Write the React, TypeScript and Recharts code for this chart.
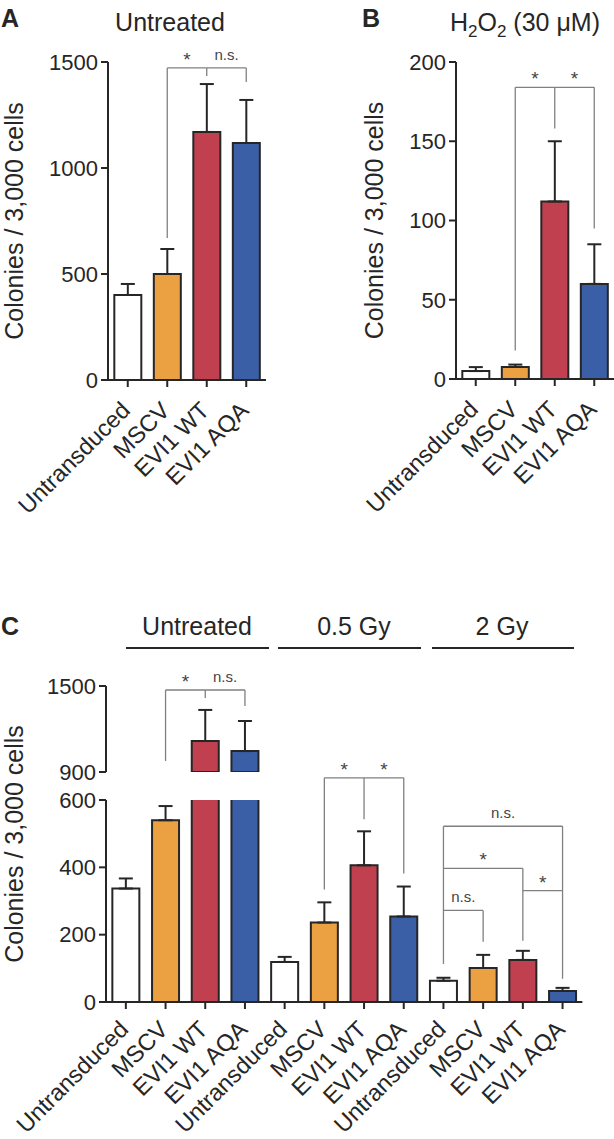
import React from 'react';
import { BarChart, Bar, XAxis, YAxis, Cell, ErrorBar, ReferenceLine } from 'recharts';

const categories = ['Untransduced', 'MSCV', 'EVI1 WT', 'EVI1 AQA'];

// A - untreated colonies (mean, +SD)
const untreatedMean = [401, 500, 1170, 1118];
const untreatedSd = [52, 118, 226, 203];

// B - H2O2 (30 uM)
const h2o2Mean = [5, 7.6, 112, 60];
const h2o2Sd = [2.5, 1.5, 38, 25];

// C - irradiation, same four cell types per dose
const doseGroups = ['Untreated', '0.5 Gy', '2 Gy'];
const ctrlMean = [337, 540, 1116, 1046];
const ctrlSd = [30, 42, 217, 210];
const halfGyMean = [119, 236, 406, 254];
const halfGySd = [15, 60, 101, 89];
const twoGyMean = [63, 101, 125, 33];
const twoGySd = [9, 39, 27, 9];

const aTicks = [0, 500, 1000, 1500];
const bTicks = [0, 50, 100, 150, 200];
const cLowTicks = [0, 200, 400, 600];
const cHighTicks = [900, 1500];

const BREAK_LO = 600;
const BREAK_HI = 900;

const COLORS = ['#ffffff', '#eba141', '#c1404f', '#3a5fa6'];
const INK = '#262626';
const GRAY = '#808080';
const FONT = '"Liberation Sans", Arial, Helvetica, sans-serif';
const Y_TITLE = 'Colonies / 3,000 cells';

const mk = (mean: number[], sd: number[]) =>
  categories.map((name, i) => ({ name, mean: mean[i], err: [0, sd[i]] }));

const dataA = mk(untreatedMean, untreatedSd);
const dataB = mk(h2o2Mean, h2o2Sd);

const cMeans = [ctrlMean, halfGyMean, twoGyMean];
const cSds = [ctrlSd, halfGySd, twoGySd];
const dataC = doseGroups.flatMap((g, gi) =>
  categories.map((name, i) => ({ key: `${g}|${name}`, name, mean: cMeans[gi][i], sd: cSds[gi][i] }))
);
const dataCLow = dataC.map((d) => ({ ...d, err: d.mean <= BREAK_LO ? [0, d.sd] : null }));
const dataCHigh = dataC.map((d) => ({
  ...d,
  mean: d.mean >= BREAK_HI ? d.mean : null,
  err: d.mean >= BREAK_HI ? [0, d.sd] : null,
}));

const k = (g: string, c: string) => `${g}|${c}`;

type Span = { a: string; b: string; y: number; text: string };
type Leg = { x: string; top: number; bottom: number };

const sigLabel = (text: string) =>
  text === '*'
    ? { value: '*', position: 'top' as const, offset: 2, fontSize: 19, fill: '#444' }
    : { value: text, position: 'top' as const, offset: 8, fontSize: 15, fill: '#444' };

const bracket = (id: string, spans: Span[], legs: Leg[]) => [
  ...spans.map((s, i) => (
    <ReferenceLine
      key={`${id}-s${i}`}
      segment={[{ x: s.a, y: s.y }, { x: s.b, y: s.y }]}
      stroke={GRAY}
      strokeWidth={1.3}
      ifOverflow="visible"
      label={sigLabel(s.text)}
    />
  )),
  ...legs.map((l, i) => (
    <ReferenceLine
      key={`${id}-l${i}`}
      segment={[{ x: l.x, y: l.top }, { x: l.x, y: l.bottom }]}
      stroke={GRAY}
      strokeWidth={1.3}
      ifOverflow="visible"
    />
  )),
];

const renderBars = (data: { mean: number | null }[]) => (
  <Bar dataKey="mean" stroke={INK} strokeWidth={2} isAnimationActive={false}>
    {data.map((_, i) => (
      <Cell key={i} fill={COLORS[i % 4]} />
    ))}
    <ErrorBar dataKey="err" direction="y" width={7} stroke={INK} strokeWidth={2} />
  </Bar>
);

const axisLine = { stroke: INK, strokeWidth: 2 };
const yTick = { fontSize: 22, fill: INK };
const xTick = (dy: number) => ({ fontSize: 23.5, fill: INK, angle: -45, textAnchor: 'end', dx: -8, dy });
const yLabel = (dx: number) => ({
  value: Y_TITLE,
  angle: -90,
  position: 'center' as const,
  dx,
  fontSize: 25,
  fill: INK,
});

const PanelA = () => (
  <BarChart width={300} height={560} data={dataA} margin={{ top: 62, right: 34, left: 8, bottom: 40 }} barCategoryGap="16%">
    <XAxis dataKey="name" interval={0} height={140} tick={xTick(11)} tickSize={7} tickLine={axisLine} axisLine={axisLine} />
    <YAxis domain={[0, 1500]} ticks={aTicks} interval={0} width={100} tick={yTick} tickSize={7} tickMargin={3}
      tickLine={axisLine} axisLine={axisLine} label={yLabel(-44)} />
    {renderBars(dataA)}
    {bracket('a', [
      { a: 'MSCV', b: 'EVI1 WT', y: 1472, text: '*' },
      { a: 'EVI1 WT', b: 'EVI1 AQA', y: 1472, text: 'n.s.' },
    ], [
      { x: 'MSCV', top: 1472, bottom: 670 },
      { x: 'EVI1 WT', top: 1472, bottom: 1434 },
      { x: 'EVI1 AQA', top: 1472, bottom: 1406 },
    ])}
  </BarChart>
);

const PanelB = () => (
  <BarChart width={314} height={560} data={dataB} margin={{ top: 62, right: 0, left: 56, bottom: 41 }} barCategoryGap="16%">
    <XAxis dataKey="name" interval={0} height={140} tick={xTick(11)} tickSize={7} tickLine={axisLine} axisLine={axisLine} />
    <YAxis domain={[0, 200]} ticks={bTicks} interval={0} width={100} tick={yTick} tickSize={7} tickMargin={3}
      tickLine={axisLine} axisLine={axisLine} label={yLabel(-32)} />
    {renderBars(dataB)}
    {bracket('b', [
      { a: 'MSCV', b: 'EVI1 WT', y: 184, text: '*' },
      { a: 'EVI1 WT', b: 'EVI1 AQA', y: 184, text: '*' },
    ], [
      { x: 'MSCV', top: 184, bottom: 18 },
      { x: 'EVI1 WT', top: 184, bottom: 158 },
      { x: 'EVI1 AQA', top: 184, bottom: 95 },
    ])}
  </BarChart>
);

const PanelCHigh = () => (
  <BarChart width={614} height={140} data={dataCHigh} margin={{ top: 26, right: 31.6, left: 6, bottom: 28 }} barCategoryGap="16%">
    <XAxis dataKey="key" hide />
    <YAxis domain={[BREAK_HI, 1500]} ticks={cHighTicks} interval={0} allowDataOverflow width={100} tick={yTick}
      tickSize={7} tickMargin={3} tickLine={axisLine} axisLine={axisLine} />
    {renderBars(dataCHigh)}
    {bracket('cu', [
      { a: k('Untreated', 'MSCV'), b: k('Untreated', 'EVI1 WT'), y: 1472, text: '*' },
      { a: k('Untreated', 'EVI1 WT'), b: k('Untreated', 'EVI1 AQA'), y: 1472, text: 'n.s.' },
    ], [
      { x: k('Untreated', 'MSCV'), top: 1472, bottom: 977 },
      { x: k('Untreated', 'EVI1 WT'), top: 1472, bottom: 1416 },
      { x: k('Untreated', 'EVI1 AQA'), top: 1472, bottom: 1360 },
    ])}
  </BarChart>
);

const PanelCLow = () => (
  <BarChart width={614} height={399} data={dataCLow} margin={{ top: 60, right: 31.6, left: 6, bottom: 7 }} barCategoryGap="16%">
    <XAxis dataKey="key" interval={0} height={130} tick={xTick(8)} tickSize={7} tickLine={axisLine} axisLine={axisLine}
      tickFormatter={(v: string) => v.split('|')[1]} />
    <YAxis domain={[0, BREAK_LO]} ticks={cLowTicks} interval={0} allowDataOverflow width={100} tick={yTick}
      tickSize={7} tickMargin={3} tickLine={axisLine} axisLine={axisLine} />
    {renderBars(dataCLow)}
    {bracket('c05', [
      { a: k('0.5 Gy', 'MSCV'), b: k('0.5 Gy', 'EVI1 WT'), y: 666, text: '*' },
      { a: k('0.5 Gy', 'EVI1 WT'), b: k('0.5 Gy', 'EVI1 AQA'), y: 666, text: '*' },
    ], [
      { x: k('0.5 Gy', 'MSCV'), top: 666, bottom: 334 },
      { x: k('0.5 Gy', 'EVI1 WT'), top: 666, bottom: 543 },
      { x: k('0.5 Gy', 'EVI1 AQA'), top: 666, bottom: 382 },
    ])}
    {bracket('c2', [
      { a: k('2 Gy', 'Untransduced'), b: k('2 Gy', 'EVI1 AQA'), y: 522, text: 'n.s.' },
      { a: k('2 Gy', 'Untransduced'), b: k('2 Gy', 'EVI1 WT'), y: 397, text: '*' },
      { a: k('2 Gy', 'EVI1 WT'), b: k('2 Gy', 'EVI1 AQA'), y: 331, text: '*' },
      { a: k('2 Gy', 'Untransduced'), b: k('2 Gy', 'MSCV'), y: 272, text: 'n.s.' },
    ], [
      { x: k('2 Gy', 'Untransduced'), top: 522, bottom: 113 },
      { x: k('2 Gy', 'MSCV'), top: 272, bottom: 179 },
      { x: k('2 Gy', 'EVI1 WT'), top: 397, bottom: 182 },
      { x: k('2 Gy', 'EVI1 AQA'), top: 522, bottom: 69 },
    ])}
  </BarChart>
);

const place = (left: number, top: number): React.CSSProperties => ({ position: 'absolute', left, top });

export default function App() {
  return (
    <div style={{ position: 'absolute', left: 0, top: 0, width: 614, height: 1139, fontFamily: FONT, color: INK, background: '#fff' }}>
      <div style={place(0, 0)}><PanelA /></div>
      <div style={place(300, 0)}><PanelB /></div>
      <div style={place(0, 740)}><PanelCLow /></div>
      <div style={place(0, 660)}><PanelCHigh /></div>
      <svg width={614} height={1139} style={{ position: 'absolute', left: 0, top: 0, pointerEvents: 'none' }} fill={INK}>
        <text x={1} y={27} fontSize={25} fontWeight="bold">A</text>
        <text x={170} y={31} fontSize={25} textAnchor="middle">Untreated</text>
        <text x={362} y={27} fontSize={25} fontWeight="bold">B</text>
        <text x={525} y={31} fontSize={25} textAnchor="middle">
          H<tspan dy={6} fontSize={17}>2</tspan>
          <tspan dy={-6}>O</tspan>
          <tspan dy={6} fontSize={17}>2</tspan>
          <tspan dy={-6}> (30 μM)</tspan>
        </text>
        <text x={1} y={635} fontSize={25} fontWeight="bold">C</text>
        <text x={197} y={635} fontSize={25} textAnchor="middle">{doseGroups[0]}</text>
        <text x={354} y={635} fontSize={25} textAnchor="middle">{doseGroups[1]}</text>
        <text x={502} y={635} fontSize={25} textAnchor="middle">{doseGroups[2]}</text>
        <line x1={126} x2={269} y1={648} y2={648} stroke={INK} strokeWidth={2} />
        <line x1={278} x2={421} y1={648} y2={648} stroke={INK} strokeWidth={2} />
        <line x1={432} x2={574} y1={648} y2={648} stroke={INK} strokeWidth={2} />
        <text transform="translate(14, 844) rotate(-90)" fontSize={25} textAnchor="middle" dy="0.355em">{Y_TITLE}</text>
      </svg>
    </div>
  );
}
